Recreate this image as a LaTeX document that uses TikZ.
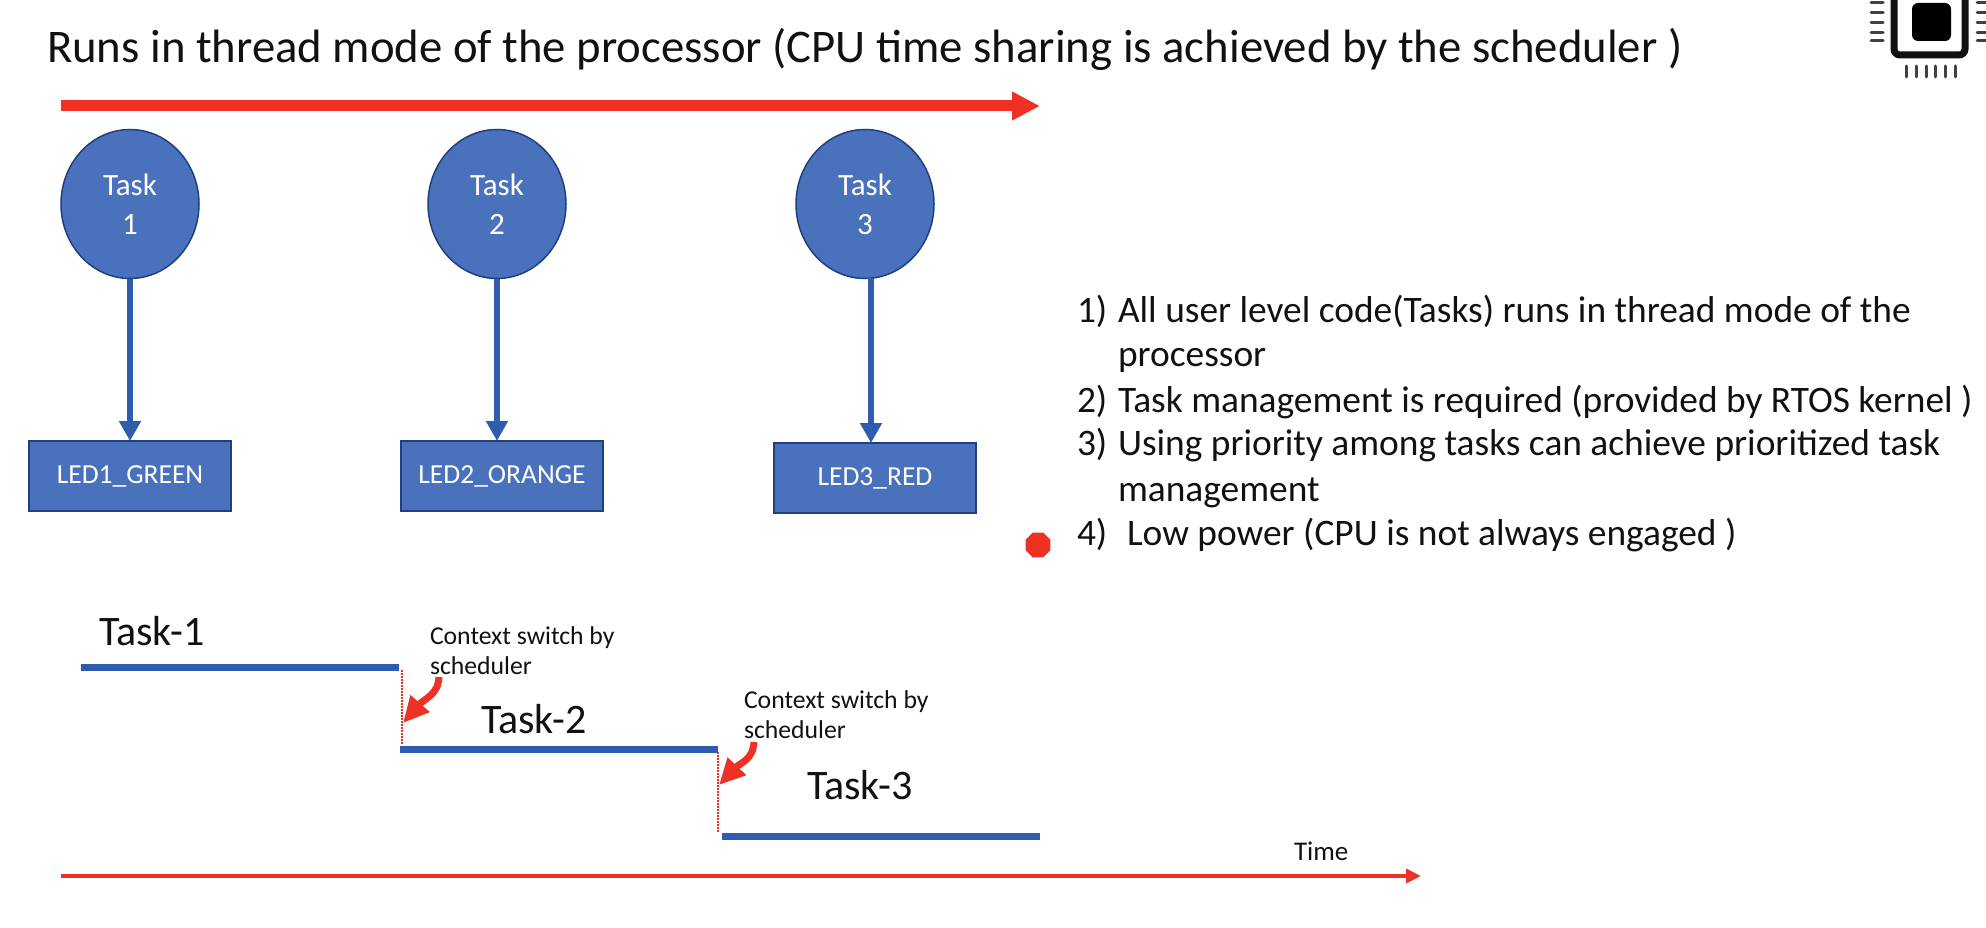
\documentclass[tikz,border=0pt]{standalone}
\usepackage{fontspec}
\setmainfont{Carlito}
\usetikzlibrary{arrows.meta,shapes.geometric}
\definecolor{fillblue}{HTML}{4A72BC}
\definecolor{edgeblue}{HTML}{1F3F7F}
\definecolor{lineblue}{HTML}{2F5CAF}
\definecolor{barred}{HTML}{EE3124}
\definecolor{inkk}{HTML}{111111}
\tikzset{
 x=1pt,y=-1pt,
 lbl/.style={anchor=base west,inner sep=0pt,outer sep=0pt,text=inkk},
 taskcircle/.style={ellipse,draw=edgeblue,line width=1.5pt,fill=fillblue,minimum width=138pt,minimum height=149pt,inner sep=0pt,text=white,align=center,font=\fontsize{31}{39}\selectfont},
 ledbox/.style={rectangle,draw=edgeblue,line width=1.5pt,fill=fillblue,minimum width=202pt,minimum height=70pt,inner sep=0pt,text=white,font=\fontsize{27.5}{32}\selectfont},
 flow/.style={draw=lineblue,line width=6pt,-{Triangle[length=20pt,width=21pt]}},
 timeline/.style={draw=lineblue,line width=7pt},
 switchline/.style={draw=barred,line width=2pt,densely dotted},
 switcharrow/.style={draw=barred,line width=7pt,-{Triangle[length=26pt,width=24pt]}},
 big/.style={lbl,font=\fontsize{46.75}{50}\selectfont},
 item/.style={lbl,font=\fontsize{37.4}{40}\selectfont},
 tasklabel/.style={lbl,font=\fontsize{42}{44}\selectfont},
 small/.style={lbl,font=\fontsize{25.7}{30}\selectfont},
 pin/.style={draw=inkk!80,line width=3pt,line cap=round},
}
\begin{document}
\begin{tikzpicture}
\useasboundingbox (0,0) rectangle (1986,928);
\fill[white] (0,0) rectangle (1986,928);

% title
\node[big] (title) at (47,63) {Runs in thread mode of the processor (CPU time sharing is achieved by the scheduler )};

% top arrow
\coordinate (topA) at (61,106);
\coordinate (topB) at (1040,106);
\draw[barred,line width=11pt,-{Triangle[length=28pt,width=27pt]}] (topA) -- (topB);

% tasks
\node[taskcircle] (t1) at (130,204) {Task\\1};
\node[taskcircle] (t2) at (497,204) {Task\\2};
\node[taskcircle] (t3) at (865,204) {Task\\3};
\node[ledbox] (l1) at (130,476) {LED1\_GREEN};
\node[ledbox] (l2) at (502,476) {LED2\_ORANGE};
\node[ledbox] (l3) at (875,478) {LED3\_RED};
\coordinate (l1t) at (130,441);
\coordinate (l2t) at (497,441);
\coordinate (l3t) at (871,443);
\coordinate (t3b) at (871,278);
\draw[flow] (t1.south) -- (l1t);
\draw[flow] (t2.south) -- (l2t);
\draw[flow] (t3b) -- (l3t);

% list
\node[item] (n1) at (1077,322) {1)};
\node[item] (i1) at (1118,322) {All user level code(Tasks) runs in thread mode of the};
\node[item] (i1b) at (1118,366) {processor};
\node[item] (n2) at (1077,412) {2)};
\node[item] (i2) at (1118,412) {Task management is required (provided by RTOS kernel )};
\node[item] (n3) at (1077,455) {3)};
\node[item] (i3) at (1118,455) {Using priority among tasks can achieve prioritized task};
\node[item] (i3b) at (1118,501) {management};
\node[item] (n4) at (1077,545) {4)};
\node[item] (i4) at (1127,545) {Low power (CPU is not always engaged )};
\node[regular polygon,regular polygon sides=8,fill=barred,minimum size=27pt,inner sep=0pt] (dot) at (1038,545) {};

% timing
\coordinate (a1) at (81,667); \coordinate (a2) at (399,667);
\coordinate (b1) at (400,749); \coordinate (b2) at (718,749);
\coordinate (c1) at (722,836); \coordinate (c2) at (1040,836);
\draw[timeline] (a1) -- (a2);
\draw[timeline] (b1) -- (b2);
\draw[timeline] (c1) -- (c2);
\coordinate (d1) at (402,670); \coordinate (d2) at (402,745);
\coordinate (e1) at (718,752); \coordinate (e2) at (718,832);
\draw[switchline] (d1) -- (d2);
\draw[switchline] (e1) -- (e2);
\node[tasklabel] (tl1) at (99,645) {Task-1};
\node[tasklabel] (tl2) at (481,733) {Task-2};
\node[tasklabel] (tl3) at (807,799) {Task-3};
\node[small] (c1a) at (430,644) {Context switch by};
\node[small] (c1b) at (430,674) {scheduler};
\node[small] (c2a) at (744,708) {Context switch by};
\node[small] (c2b) at (744,738) {scheduler};
\coordinate (s1) at (439,677); \coordinate (s1t) at (403,723);
\coordinate (s2) at (754,742); \coordinate (s2t) at (719,785);
\draw[switcharrow] (s1) .. controls (438,695) and (425,698) .. (s1t);
\draw[switcharrow] (s2) .. controls (753,760) and (740,763) .. (s2t);

% bottom axis
\coordinate (axA) at (61,876); \coordinate (axB) at (1421,876);
\draw[barred,line width=4.5pt,-{Triangle[length=15pt,width=14pt]}] (axA) -- (axB);
\node[lbl,font=\fontsize{27}{30}\selectfont] (time) at (1294,860) {Time};

% chip icon
\draw[draw=inkk,line width=7pt,rounded corners=6pt] (1894,-10) -- (1894,55) -- (1965,55) -- (1965,-10);
\fill[black,rounded corners=6pt] (1912,3) rectangle (1951,41);
\foreach \yy in {3,13,23,33,41}{
 \draw[pin] (1871,\yy) -- (1883,\yy);
 \draw[pin] (1977,\yy) -- (1989,\yy);
}
\foreach \xx in {1906,1916,1926,1935,1945,1955}{
 \draw[pin] (\xx,66) -- (\xx,77);
}
\end{tikzpicture}
\end{document}
